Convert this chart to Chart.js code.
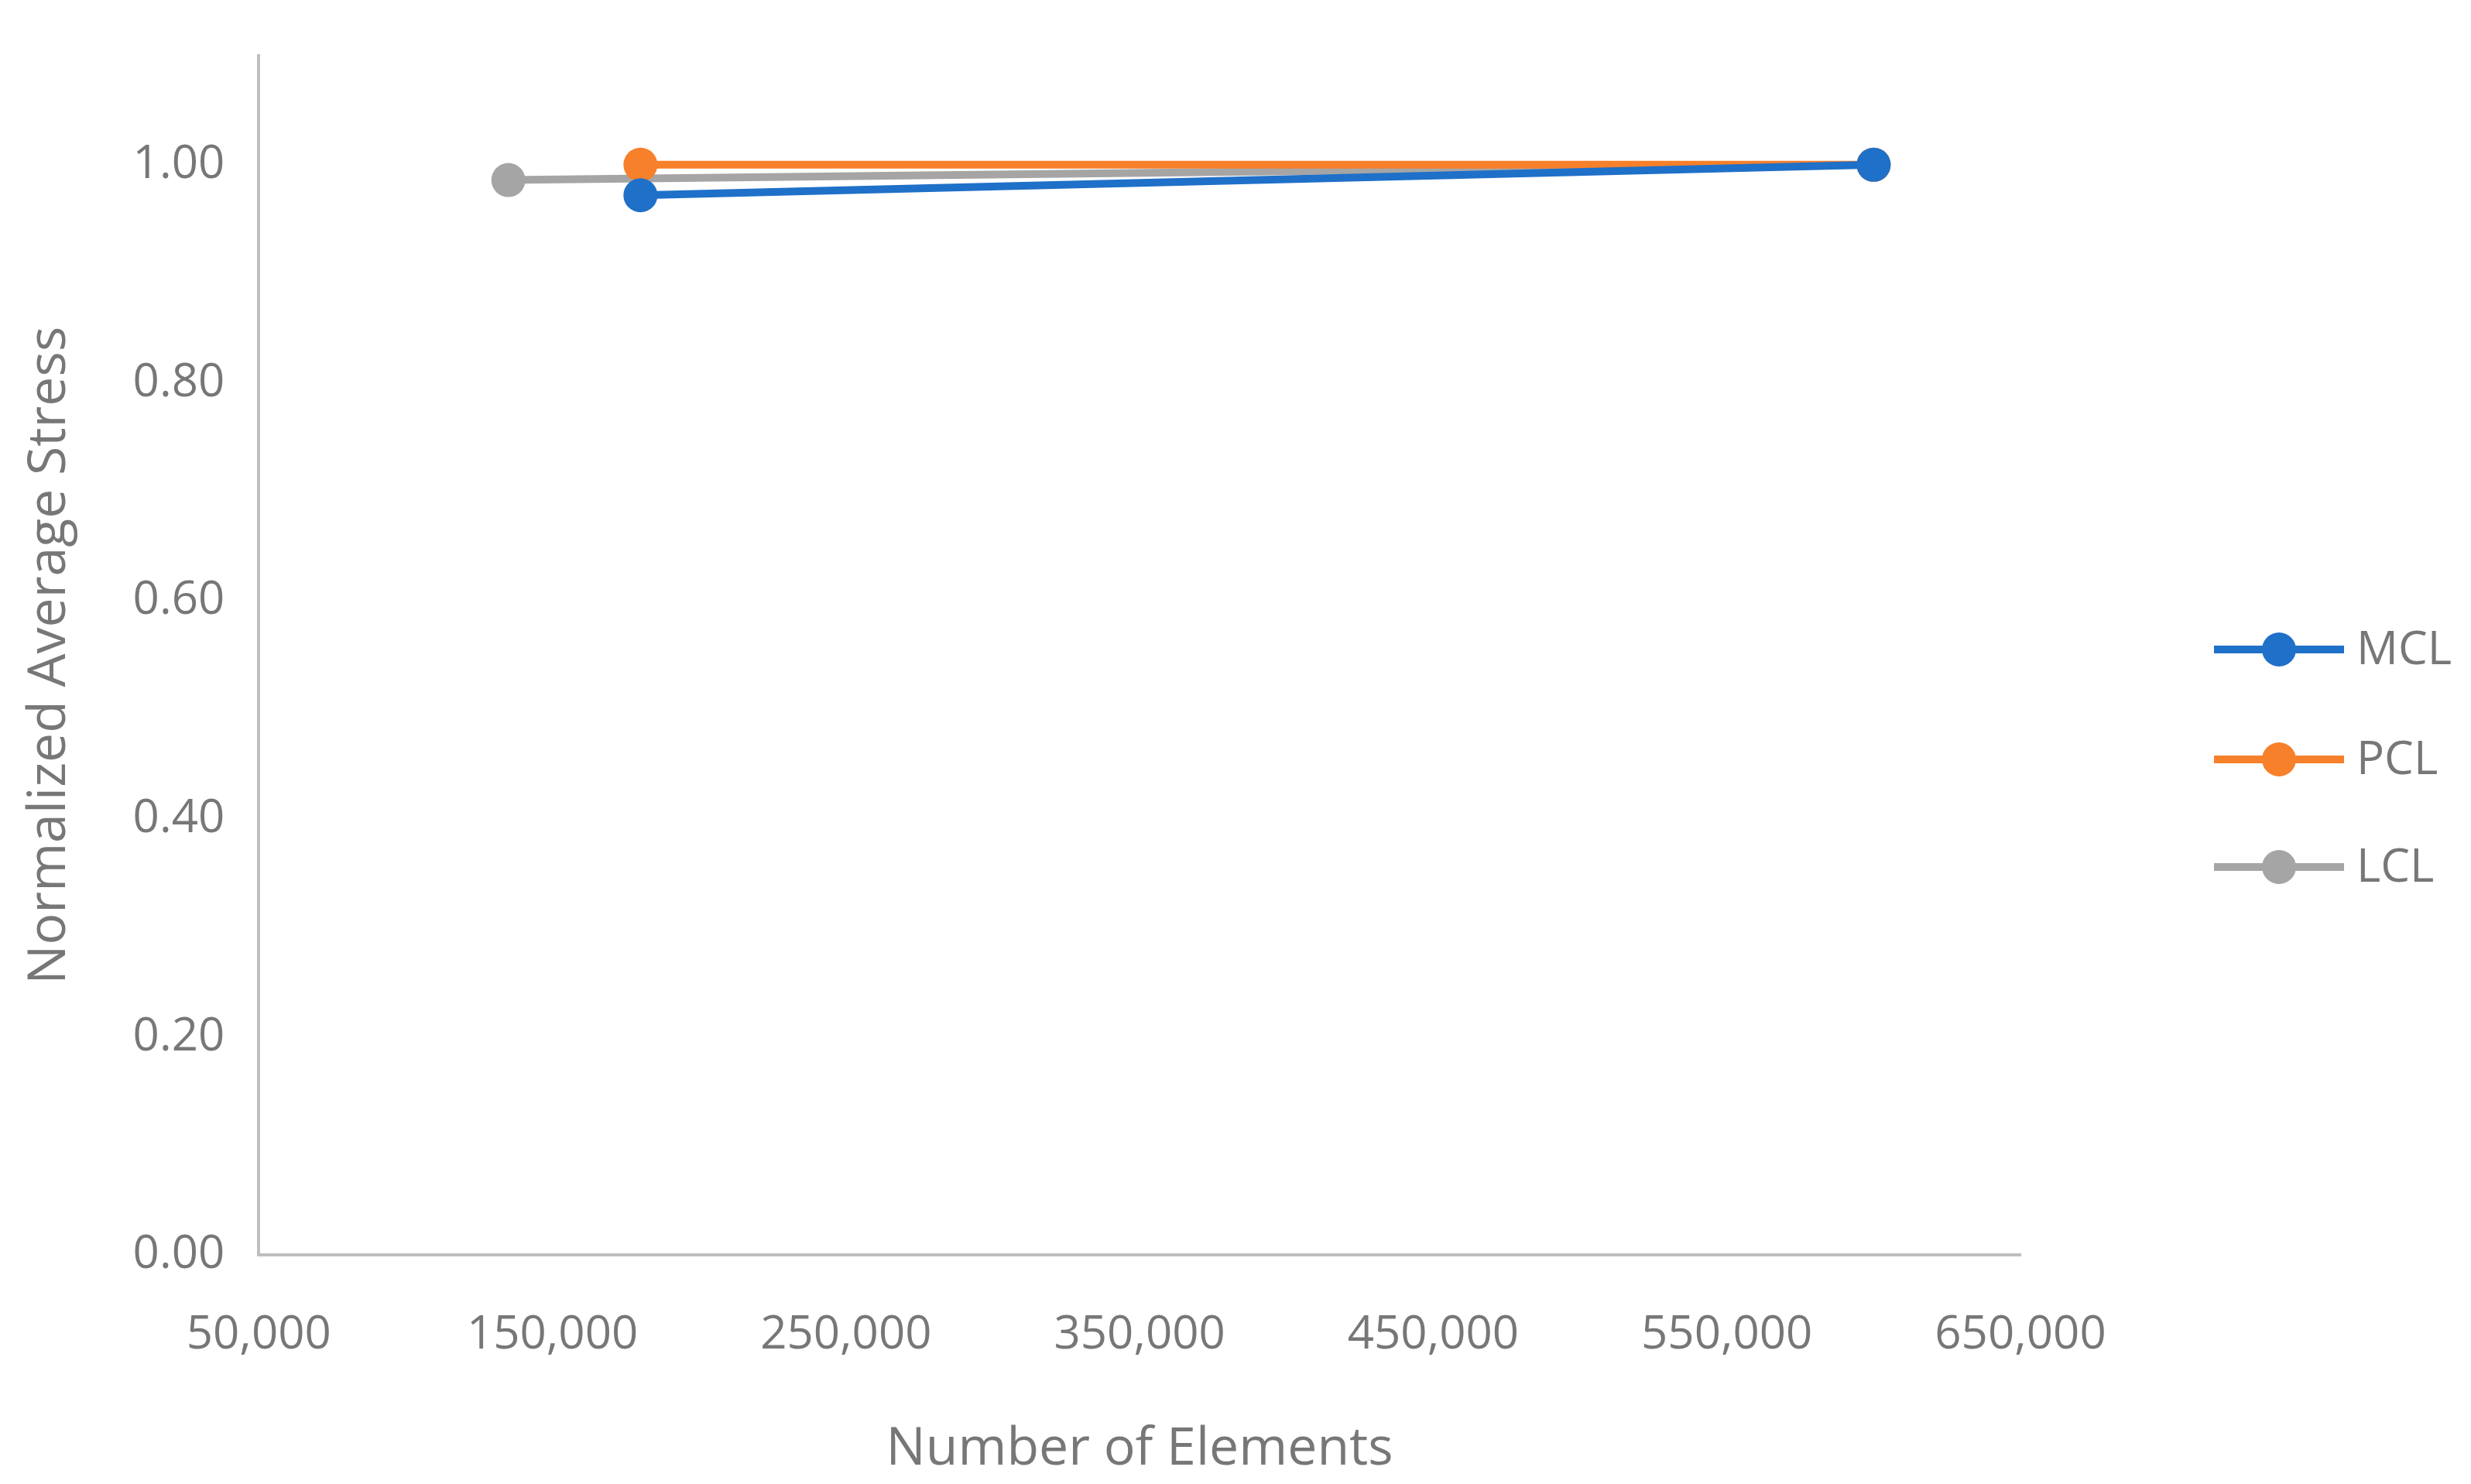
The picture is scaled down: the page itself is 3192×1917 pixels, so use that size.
<!DOCTYPE html>
<html>
<head>
<meta charset="utf-8">
<script src="https://cdn.jsdelivr.net/npm/chart.js@4"></script>
<style>
  html, body { margin: 0; padding: 0; background: #fff; }
  #wrap { width: 3192px; height: 1917px; }
</style>
</head>
<body>
<div id="wrap"><canvas id="chart"></canvas></div>
<script>
// data
const seriesNames = ["MCL", "PCL", "LCL"];
const seriesColors = ["#1f70c8", "#f7802a", "#a5a5a5"];
const mclX = [180000, 600000];
const mclY = [0.972, 1.0];
const pclX = [180000, 600000];
const pclY = [1.0, 1.0];
const lclX = [135000, 600000];
const lclY = [0.986, 1.0];

const toPoints = (xs, ys) => xs.map((x, i) => ({ x: x, y: ys[i] }));
const allX = [mclX, pclX, lclX];
const allY = [mclY, pclY, lclY];

const textColor = "#777777";
const fontFamily = "'Open Sans', 'Liberation Sans', sans-serif";

// legend with line + circle, drawn on the right
const lineLegend = {
  id: "lineLegend",
  afterDraw(chart) {
    const ctx = chart.ctx;
    const rows = [839, 981, 1120];
    chart.data.datasets.forEach((ds, i) => {
      const y = rows[i];
      ctx.save();
      ctx.strokeStyle = ds.borderColor;
      ctx.lineWidth = 10;
      ctx.beginPath();
      ctx.moveTo(2860, y);
      ctx.lineTo(3028, y);
      ctx.stroke();
      ctx.fillStyle = ds.borderColor;
      ctx.beginPath();
      ctx.arc(2944, y, 22, 0, Math.PI * 2);
      ctx.fill();
      ctx.fillStyle = textColor;
      ctx.font = "60px " + fontFamily;
      ctx.textBaseline = "middle";
      ctx.fillText(ds.label, 3044, y + 2);
      ctx.restore();
    });
  },
};

new Chart(document.getElementById("chart"), {
  type: "line",
  data: {
    datasets: seriesNames.map((name, i) => ({
      label: name,
      data: toPoints(allX[i], allY[i]),
      borderColor: seriesColors[i],
      backgroundColor: seriesColors[i],
      borderWidth: 10,
      pointRadius: 22,
      pointHoverRadius: 22,
      pointBorderWidth: 0,
    })),
  },
  options: {
    responsive: true,
    maintainAspectRatio: false,
    animation: false,
    layout: { padding: { left: 20, right: 582, top: 10, bottom: 0 } },
    plugins: { legend: { display: false }, tooltip: { enabled: false } },
    scales: {
      x: {
        type: "linear",
        min: 50000,
        max: 650000,
        grid: { display: false },
        border: { color: "#bfbfbf", width: 4 },
        ticks: {
          stepSize: 100000,
          color: textColor,
          font: { size: 60, family: fontFamily },
          padding: 60,
          callback: (v) => v.toLocaleString("en-US"),
        },
        title: {
          display: true,
          text: "Number of Elements",
          color: textColor,
          font: { size: 68, family: fontFamily },
          padding: { top: 10 },
        },
      },
      y: {
        min: 0,
        max: 1.1,
        grid: { display: false },
        border: { color: "#bfbfbf", width: 4 },
        ticks: {
          stepSize: 0.2,
          color: textColor,
          font: { size: 60, family: fontFamily },
          padding: 36,
          callback: (v) => (v > 1.05 ? "" : v.toFixed(2)),
        },
        title: {
          display: true,
          text: "Normalized Average Stress",
          color: textColor,
          font: { size: 68, family: fontFamily },
          padding: { bottom: 30 },
        },
      },
    },
  },
  plugins: [lineLegend],
});
</script>
</body>
</html>
